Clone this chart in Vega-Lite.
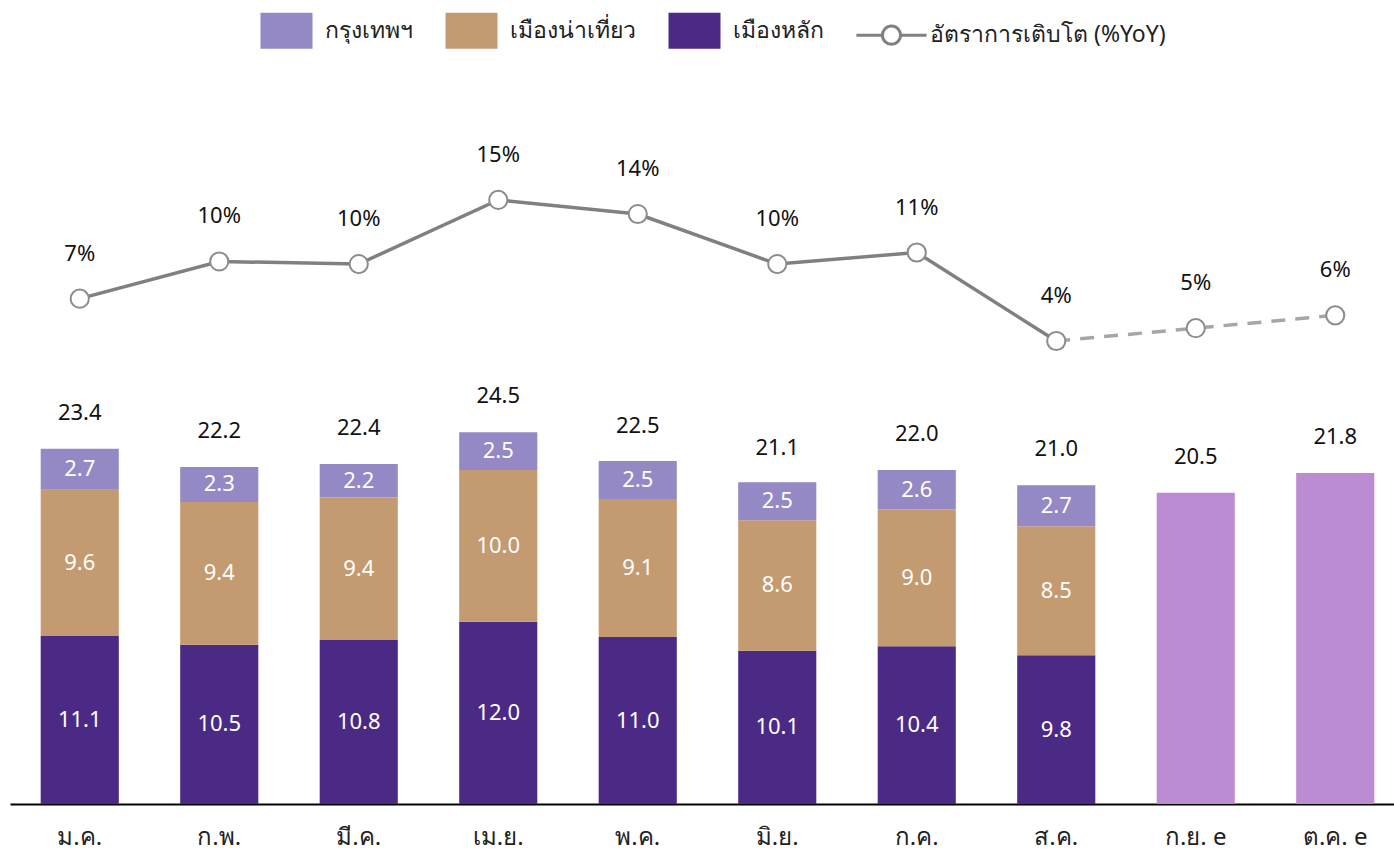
{
  "$schema": "https://vega.github.io/schema/vega-lite/v6.json",
  "autosize": {"type": "none"},
  "padding": {"left": 10, "top": 80, "right": 0, "bottom": 46},
  "width": 1395,
  "height": 724,
  "background": "#ffffff",
  "config": {
    "view": {"stroke": null},
    "font": "Noto Sans",
    "axisX": {
      "title": null,
      "ticks": false,
      "grid": false,
      "domainColor": "#000000",
      "domainWidth": 2,
      "labelFontSize": 24,
      "labelColor": "#222222",
      "labelPadding": 21,
      "labelAngle": 0,
      "labelBaseline": "top"
    }
  },
  "datasets": {
    "bars": [
      {"month": "ม.ค.", "cat": "เมืองหลัก", "order": 1, "value": 11.1},
      {"month": "ม.ค.", "cat": "เมืองน่าเที่ยว", "order": 2, "value": 9.6},
      {"month": "ม.ค.", "cat": "กรุงเทพฯ", "order": 3, "value": 2.7},
      {"month": "ก.พ.", "cat": "เมืองหลัก", "order": 1, "value": 10.5},
      {"month": "ก.พ.", "cat": "เมืองน่าเที่ยว", "order": 2, "value": 9.4},
      {"month": "ก.พ.", "cat": "กรุงเทพฯ", "order": 3, "value": 2.3},
      {"month": "มี.ค.", "cat": "เมืองหลัก", "order": 1, "value": 10.8},
      {"month": "มี.ค.", "cat": "เมืองน่าเที่ยว", "order": 2, "value": 9.4},
      {"month": "มี.ค.", "cat": "กรุงเทพฯ", "order": 3, "value": 2.2},
      {"month": "เม.ย.", "cat": "เมืองหลัก", "order": 1, "value": 12.0},
      {"month": "เม.ย.", "cat": "เมืองน่าเที่ยว", "order": 2, "value": 10.0},
      {"month": "เม.ย.", "cat": "กรุงเทพฯ", "order": 3, "value": 2.5},
      {"month": "พ.ค.", "cat": "เมืองหลัก", "order": 1, "value": 11.0},
      {"month": "พ.ค.", "cat": "เมืองน่าเที่ยว", "order": 2, "value": 9.1},
      {"month": "พ.ค.", "cat": "กรุงเทพฯ", "order": 3, "value": 2.5},
      {"month": "มิ.ย.", "cat": "เมืองหลัก", "order": 1, "value": 10.1},
      {"month": "มิ.ย.", "cat": "เมืองน่าเที่ยว", "order": 2, "value": 8.6},
      {"month": "มิ.ย.", "cat": "กรุงเทพฯ", "order": 3, "value": 2.5},
      {"month": "ก.ค.", "cat": "เมืองหลัก", "order": 1, "value": 10.4},
      {"month": "ก.ค.", "cat": "เมืองน่าเที่ยว", "order": 2, "value": 9.0},
      {"month": "ก.ค.", "cat": "กรุงเทพฯ", "order": 3, "value": 2.6},
      {"month": "ส.ค.", "cat": "เมืองหลัก", "order": 1, "value": 9.8},
      {"month": "ส.ค.", "cat": "เมืองน่าเที่ยว", "order": 2, "value": 8.5},
      {"month": "ส.ค.", "cat": "กรุงเทพฯ", "order": 3, "value": 2.7}
    ],
    "totals": [
      {"month": "ม.ค.", "total": 23.4, "est": false},
      {"month": "ก.พ.", "total": 22.2, "est": false},
      {"month": "มี.ค.", "total": 22.4, "est": false},
      {"month": "เม.ย.", "total": 24.5, "est": false},
      {"month": "พ.ค.", "total": 22.5, "est": false},
      {"month": "มิ.ย.", "total": 21.1, "est": false},
      {"month": "ก.ค.", "total": 22.0, "est": false},
      {"month": "ส.ค.", "total": 21.0, "est": false},
      {"month": "ก.ย. e", "total": 20.5, "est": true},
      {"month": "ต.ค. e", "total": 21.8, "est": true}
    ],
    "line": [
      {"month": "ม.ค.", "yoy": 0.073, "seg": "a", "dup": false},
      {"month": "ก.พ.", "yoy": 0.102, "seg": "a", "dup": false},
      {"month": "มี.ค.", "yoy": 0.100, "seg": "a", "dup": false},
      {"month": "เม.ย.", "yoy": 0.150, "seg": "a", "dup": false},
      {"month": "พ.ค.", "yoy": 0.139, "seg": "a", "dup": false},
      {"month": "มิ.ย.", "yoy": 0.100, "seg": "a", "dup": false},
      {"month": "ก.ค.", "yoy": 0.109, "seg": "a", "dup": false},
      {"month": "ส.ค.", "yoy": 0.040, "seg": "a", "dup": false},
      {"month": "ส.ค.", "yoy": 0.040, "seg": "b", "dup": true},
      {"month": "ก.ย. e", "yoy": 0.050, "seg": "b", "dup": false},
      {"month": "ต.ค. e", "yoy": 0.060, "seg": "b", "dup": false}
    ]
  },
  "encoding": {
    "x": {
      "field": "month",
      "type": "nominal",
      "sort": null,
      "scale": {
        "domain": ["ม.ค.", "ก.พ.", "มี.ค.", "เม.ย.", "พ.ค.", "มิ.ย.", "ก.ค.", "ส.ค.", "ก.ย. e", "ต.ค. e"],
        "paddingInner": 0.44,
        "paddingOuter": 0.22
      }
    }
  },
  "layer": [
    {
      "data": {"name": "bars"},
      "transform": [
        {"stack": "value", "groupby": ["month"], "sort": [{"field": "order", "order": "ascending"}], "as": ["v0", "v1"]}
      ],
      "mark": {"type": "bar"},
      "encoding": {
        "y": {"field": "v0", "type": "quantitative", "scale": {"domain": [0, 47.7]}, "axis": null},
        "y2": {"field": "v1"},
        "color": {
          "field": "cat",
          "type": "nominal",
          "scale": {
            "domain": ["กรุงเทพฯ", "เมืองน่าเที่ยว", "เมืองหลัก", "อัตราการเติบโต (%YoY)"],
            "range": ["#9489C5", "#C49A70", "#4B2A85", "#ffffff"]
          },
          "legend": {
            "title": null,
            "orient": "none",
            "direction": "horizontal",
            "legendX": 249,
            "legendY": -77,
            "padding": 0,
            "columnPadding": 26,
            "labelOffset": 11,
            "labelFontSize": 23,
            "labelColor": "#222222",
            "labelFont": "Noto Sans",
            "symbolSize": 2704,
            "labelLimit": 400,
            "encode": {
              "symbols": {
                "update": {
                  "shape": {"signal": "datum.value === 'อัตราการเติบโต (%YoY)' ? 'M-1.35,0H-0.35M0.35,0H1.35M0.35,0A0.35,0.35,0,1,1,-0.35,0A0.35,0.35,0,1,1,0.35,0' : 'M-1,-0.69H1V0.69H-1Z'"},
                  "fill": {"signal": "datum.value === 'อัตราการเติบโต (%YoY)' ? '#ffffff' : scale('color', datum.value)"},
                  "stroke": {"signal": "datum.value === 'อัตราการเติบโต (%YoY)' ? '#808080' : 'transparent'"},
                  "strokeWidth": {"value": 3},
                  "opacity": {"value": 1},
                  "fillOpacity": {"value": 1}
                }
              }
            }
          }
        }
      }
    },
    {
      "data": {"name": "bars"},
      "transform": [
        {"stack": "value", "groupby": ["month"], "sort": [{"field": "order", "order": "ascending"}], "as": ["v0", "v1"]},
        {"calculate": "(datum.v0 + datum.v1) / 2", "as": "mid"}
      ],
      "mark": {"type": "text", "color": "#ffffff", "fontSize": 22, "baseline": "middle", "align": "center"},
      "encoding": {
        "y": {"field": "mid", "type": "quantitative", "scale": {"domain": [0, 47.7]}, "axis": null},
        "text": {"field": "value", "type": "quantitative", "format": ".1f"}
      }
    },
    {
      "data": {"name": "totals"},
      "transform": [{"filter": "datum.est"}],
      "mark": {"type": "bar", "color": "#BC8CD3"},
      "encoding": {
        "y": {"field": "total", "type": "quantitative", "scale": {"domain": [0, 47.7]}, "axis": null}
      }
    },
    {
      "data": {"name": "totals"},
      "mark": {"type": "text", "color": "#111111", "fontSize": 22, "baseline": "middle", "align": "center", "dy": -36},
      "encoding": {
        "y": {"field": "total", "type": "quantitative", "scale": {"domain": [0, 47.7]}, "axis": null},
        "text": {"field": "total", "type": "quantitative", "format": ".1f"}
      }
    },
    {
      "data": {"name": "line"},
      "transform": [{"filter": "datum.seg === 'a'"}],
      "mark": {"type": "line", "color": "#808080", "strokeWidth": 3.5},
      "encoding": {
        "y": {"field": "yoy", "type": "quantitative", "scale": {"domain": [-0.321, 0.2435]}, "axis": null}
      }
    },
    {
      "data": {"name": "line"},
      "transform": [{"filter": "datum.seg === 'b'"}],
      "mark": {"type": "line", "color": "#A6A6A6", "strokeWidth": 3.5, "strokeDash": [14, 10]},
      "encoding": {
        "y": {"field": "yoy", "type": "quantitative", "scale": {"domain": [-0.321, 0.2435]}, "axis": null}
      }
    },
    {
      "data": {"name": "line"},
      "transform": [{"filter": "!datum.dup"}],
      "mark": {"type": "point", "shape": "circle", "filled": true, "fill": "#ffffff", "stroke": "#8C8C8C", "strokeWidth": 2, "size": 330, "opacity": 1},
      "encoding": {
        "y": {"field": "yoy", "type": "quantitative", "scale": {"domain": [-0.321, 0.2435]}, "axis": null}
      }
    },
    {
      "data": {"name": "line"},
      "transform": [{"filter": "!datum.dup"}],
      "mark": {"type": "text", "color": "#111111", "fontSize": 22, "baseline": "middle", "align": "center", "dy": -45},
      "encoding": {
        "y": {"field": "yoy", "type": "quantitative", "scale": {"domain": [-0.321, 0.2435]}, "axis": null},
        "text": {"field": "yoy", "type": "quantitative", "format": ".0%"}
      }
    }
  ],
  "resolve": {"scale": {"y": "independent"}}
}
